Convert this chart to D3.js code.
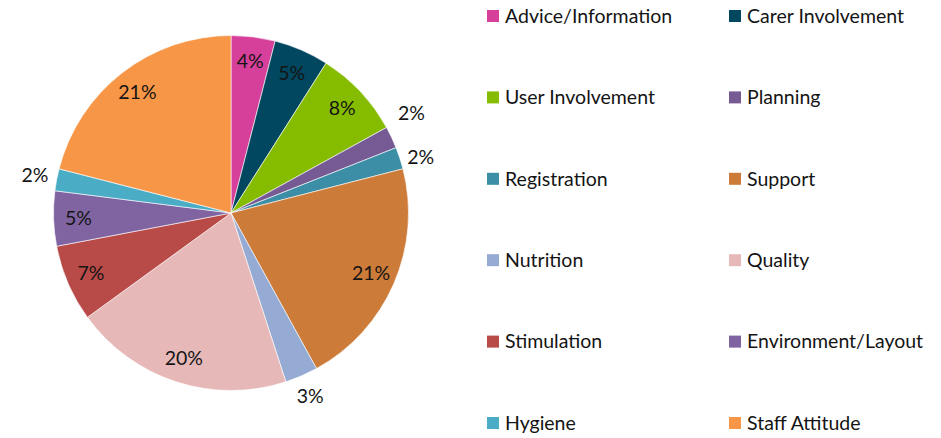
<!DOCTYPE html>
<html>
<head>
<meta charset="utf-8">
<script src="https://cdn.jsdelivr.net/npm/d3@7"></script>
<style>
  html, body { margin: 0; padding: 0; background: #fff; }
  svg { display: block; font-family: Lato, "Open Sans", sans-serif; }
</style>
</head>
<body>
<svg id="chart" width="941" height="438"></svg>
<script>
// Feedback topics and their share of comments (%)
const categories = [
  "Advice/Information", "Carer Involvement", "User Involvement", "Planning",
  "Registration", "Support", "Nutrition", "Quality",
  "Stimulation", "Environment/Layout", "Hygiene", "Staff Attitude"
];
const shares = [4, 5, 8, 2, 2, 21, 3, 20, 7, 5, 2, 21];
const colours = [
  "#D6409A", "#01475F", "#86BC00", "#765A94",
  "#3B8EA5", "#CC7B39", "#95ABD4", "#E6B9B8",
  "#B84A48", "#8064A2", "#4BACC6", "#F79646"
];
// Small slices get their label outside the pie
const outsideLabel = [false, false, false, true, true, false, true, false, false, false, true, false];

const data = categories.map((c, i) => ({ name: c, value: shares[i], colour: colours[i], outside: outsideLabel[i] }));

const svg = d3.select("#chart");
const cx = 231, cy = 213, R = 177.5;
const fontSize = 19.5;

const pie = d3.pie().value(d => d.value).sort(null);
const arcs = pie(data);

const arc = d3.arc().innerRadius(0).outerRadius(R);
const innerLabelArc = d3.arc().innerRadius(R * 0.86).outerRadius(R * 0.86);
const outerLabelArc = d3.arc().innerRadius(R + 22).outerRadius(R + 22);

const g = svg.append("g").attr("transform", `translate(${cx},${cy})`);

g.selectAll("path.slice")
  .data(arcs)
  .join("path")
  .attr("class", "slice")
  .attr("d", arc)
  .attr("fill", d => d.data.colour)
  .attr("stroke", "#ffffff")
  .attr("stroke-width", 0.6);

// Label positions; neighbouring outside labels are spread apart vertically
const labelPos = arcs.map(d => (d.data.outside ? outerLabelArc : innerLabelArc).centroid(d));
for (let i = 1; i < arcs.length; i++) {
  if (arcs[i].data.outside && arcs[i - 1].data.outside) {
    const gap = labelPos[i][1] - labelPos[i - 1][1];
    const minGap = 44;
    if (gap < minGap) {
      const shift = (minGap - gap) / 2;
      labelPos[i - 1][1] -= shift * 1.4;
      labelPos[i][1] += shift * 0.6;
    }
  }
}

g.selectAll("text.pct")
  .data(arcs)
  .join("text")
  .attr("class", "pct")
  .attr("transform", (d, i) => `translate(${labelPos[i]})`)
  .attr("text-anchor", "middle")
  .attr("dy", "0.35em")
  .attr("font-size", fontSize)
  .attr("fill", "#141414")
  .text(d => d3.format(".0f")(d.data.value) + "%");

// Legend: two columns, six rows
const legend = svg.append("g");
const colX = [487, 729];
const rowY = d3.scaleLinear().domain([0, 5]).range([16, 423]);

const items = legend.selectAll("g.item")
  .data(data)
  .join("g")
  .attr("class", "item")
  .attr("transform", (d, i) => `translate(${colX[i % 2]},${rowY(Math.floor(i / 2))})`);

items.append("rect")
  .attr("x", 0).attr("y", -6)
  .attr("width", 12).attr("height", 12)
  .attr("fill", d => d.colour);

items.append("text")
  .attr("x", 18)
  .attr("dy", "0.35em")
  .attr("font-size", fontSize)
  .attr("fill", "#141414")
  .text(d => d.name);
</script>
</body>
</html>
